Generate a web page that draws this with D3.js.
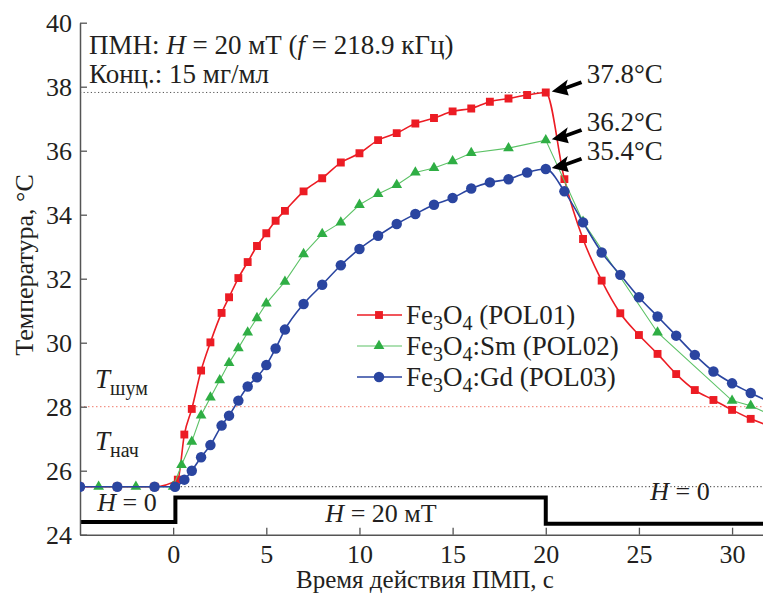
<!DOCTYPE html>
<html>
<head>
<meta charset="utf-8">
<script src="https://cdn.jsdelivr.net/npm/d3@7"></script>
<style>
  body { margin: 0; background: #fff; }
  svg { display: block; }
</style>
</head>
<body>
<svg id="chart" width="763" height="594"></svg>
<script>
// [time, s ; temperature, °C]
const pol01 = [
  [-5, 25.5], [-3, 25.5], [-1, 25.5], [0.25, 25.72], [0.6, 27.13], [1, 27.93], [1.5, 29.13],
  [2, 30.01], [2.6, 30.93], [3, 31.42], [3.5, 32.02], [4, 32.52], [4.5, 33.02], [5, 33.42],
  [5.5, 33.81], [6, 34.12], [7, 34.73], [8, 35.14], [9, 35.63], [10, 35.92], [11, 36.33],
  [12, 36.55], [13, 36.85], [14, 37.02], [15, 37.23], [16, 37.32], [17, 37.53], [18, 37.63],
  [19, 37.74], [20, 37.82], [21, 35.11], [22, 33.24], [23, 31.94], [24, 30.92], [25, 30.24],
  [26, 29.65], [27, 29.02], [28, 28.52], [29, 28.21], [30, 27.9], [31, 27.62], [32, 27.4]
];
const pol02 = [
  [-4, 25.5], [-2, 25.5], [0, 25.5], [0.45, 26.18], [1, 26.91], [1.5, 27.73], [2, 28.29],
  [2.5, 28.83], [3, 29.37], [3.5, 29.83], [4, 30.32], [4.5, 30.77], [5, 31.23], [6, 31.91],
  [7, 32.77], [8, 33.4], [9, 33.76], [10, 34.31], [11, 34.65], [12, 34.93], [13, 35.32],
  [14, 35.46], [15, 35.67], [16, 35.93], [18, 36.08], [20, 36.33], [22, 33.78], [26, 30.32],
  [30, 28.19], [31, 28.03], [32, 27.76]
];
const pol03 = [
  [-5, 25.5], [-3, 25.5], [-1, 25.5], [0.1, 25.5], [0.6, 25.72], [1, 26.0], [1.5, 26.42],
  [2, 26.8], [2.6, 27.41], [3, 27.72], [3.5, 28.19], [4, 28.63], [4.5, 28.92], [5, 29.3],
  [5.5, 29.82], [6, 30.41], [7, 31.21], [8, 31.81], [9, 32.42], [10, 32.93], [11, 33.34],
  [12, 33.71], [13, 34.02], [14, 34.31], [15, 34.52], [16, 34.82], [17, 35.01], [18, 35.11],
  [19, 35.32], [20, 35.43], [21, 34.73], [22, 33.76], [23, 32.82], [24, 32.12], [25, 31.42],
  [26, 30.82], [27, 30.22], [28, 29.62], [29, 29.1], [30, 28.73], [31, 28.43], [32, 28.15]
];
// field on/off indicator drawn in temperature units
const fieldStep = [[-5, 24.4], [0.12, 24.4], [0.12, 25.16], [20, 25.16], [20, 24.34], [32, 24.34]];
const xTicks = [0, 5, 10, 15, 20, 25, 30];
const yTicks = [24, 26, 28, 30, 32, 34, 36, 38, 40];
const tNoise = 28;
const tStart = 25.5;
const tMax = 37.82;
const peaks = [
  { label: '37.8°C', t: 20, v: 37.82 },
  { label: '36.2°C', t: 20, v: 36.33 },
  { label: '35.4°C', t: 20, v: 35.43 }
];
const series = [
  { key: 'pol01', data: pol01, name: ['Fe', '3', 'O', '4', ' (POL01)'], color: '#ec1c24', line: '#ec1c24', width: 1.6, shape: 'square', curve: d3.curveMonotoneX },
  { key: 'pol02', data: pol02, name: ['Fe', '3', 'O', '4', ':Sm (POL02)'], color: '#2fae44', line: '#5cc266', width: 1.1, shape: 'triangle', curve: d3.curveLinear },
  { key: 'pol03', data: pol03, name: ['Fe', '3', 'O', '4', ':Gd (POL03)'], color: '#2a45a0', line: '#2a45a0', width: 1.6, shape: 'circle', curve: d3.curveMonotoneX }
];

const serif = 'Liberation Serif';
const svg = d3.select('#chart');
const pLeft = 80;
const pRight = 763;
const pTop = 22.7;
const pBottom = 534.7;
const x = d3.scaleLinear().domain([-5, 31.66]).range([pLeft, pRight]);
const y = d3.scaleLinear().domain([24, 40]).range([pBottom, pTop]);
const ink = '#231f20';

const addText = (parent, xx, yy, size) => parent.append('text')
  .attr('x', xx).attr('y', yy)
  .attr('font-family', serif).attr('font-size', size).attr('fill', ink);

svg.append('defs').append('clipPath').attr('id', 'plot-clip')
  .append('rect').attr('x', pLeft).attr('y', pTop - 10).attr('width', pRight - pLeft).attr('height', pBottom - pTop + 10);

// reference lines
const refs = svg.append('g');
refs.append('line')
  .attr('x1', pLeft).attr('x2', x(20)).attr('y1', y(tMax)).attr('y2', y(tMax))
  .attr('stroke', '#555').attr('stroke-width', 1).attr('stroke-dasharray', '1.2,2.4');
refs.append('line')
  .attr('x1', pLeft).attr('x2', pRight).attr('y1', y(tNoise)).attr('y2', y(tNoise))
  .attr('stroke', '#f07a6a').attr('stroke-width', 1).attr('stroke-dasharray', '1.5,2.5');
refs.append('line')
  .attr('x1', pLeft).attr('x2', pRight).attr('y1', y(tStart)).attr('y2', y(tStart))
  .attr('stroke', '#333').attr('stroke-width', 1).attr('stroke-dasharray', '1.2,2.4');

// field step
svg.append('path')
  .attr('clip-path', 'url(#plot-clip)')
  .attr('fill', 'none')
  .attr('stroke', '#000')
  .attr('stroke-width', 4)
  .attr('d', d3.line().x((d) => x(d[0])).y((d) => y(d[1]))(fieldStep));

// axes (ticks point inward)
const xAxis = svg.append('g')
  .attr('transform', `translate(0,${pBottom})`)
  .call(d3.axisBottom(x).tickValues(xTicks).tickSizeInner(-7).tickSizeOuter(0).tickPadding(10));
const yAxis = svg.append('g')
  .attr('transform', `translate(${pLeft},0)`)
  .call(d3.axisLeft(y).tickValues(yTicks).tickSizeInner(-7).tickSizeOuter(0).tickPadding(8));
[xAxis, yAxis].forEach((g) => {
  g.attr('font-family', serif).attr('font-size', 26);
  g.select('.domain').attr('stroke', '#555').attr('stroke-width', 1.5);
  g.selectAll('.tick line').attr('stroke', '#555').attr('stroke-width', 1.3);
  g.selectAll('.tick text').attr('fill', ink).attr('font-family', serif);
});

// curves + markers
const marker = (shape) => {
  if (shape === 'square') return d3.symbol().type(d3.symbolSquare).size(62)();
  if (shape === 'triangle') return d3.symbol().type(d3.symbolTriangle).size(50)();
  return d3.symbol().type(d3.symbolCircle).size(86)();
};
const plot = svg.append('g').attr('clip-path', 'url(#plot-clip)');
series.forEach((s) => {
  const g = plot.append('g').attr('class', s.key);
  g.append('path')
    .attr('fill', 'none')
    .attr('stroke', s.line)
    .attr('stroke-width', s.width)
    .attr('d', d3.line().curve(s.curve).x((d) => x(d[0])).y((d) => y(d[1]))(s.data));
  g.selectAll('path.pt')
    .data(s.data)
    .join('path')
    .attr('class', 'pt')
    .attr('transform', (d) => `translate(${x(d[0])},${y(d[1])})`)
    .attr('d', marker(s.shape))
    .attr('fill', s.color);
});

// peak arrows
const arrowHead = 'M0,0 L16,-12 L14,-5.5 L29,-11 L30.5,-7.5 L15,-2 L17,4 Z';
peaks.forEach((p) => {
  const px = x(p.t) + 6;
  const py = y(p.v) - 1;
  svg.append('path')
    .attr('transform', `translate(${px},${py})`)
    .attr('d', arrowHead)
    .attr('fill', '#000');
  addText(svg, px + 35, py - 8, 27).text(p.label);
});

// legend
const legend = svg.append('g').attr('transform', 'translate(357,315)');
series.forEach((s, i) => {
  const row = legend.append('g').attr('transform', `translate(0,${i * 31})`);
  row.append('line').attr('x1', 0).attr('x2', 45).attr('stroke', s.line).attr('stroke-width', s.width);
  row.append('path').attr('transform', 'translate(22,0)').attr('d', marker(s.shape)).attr('fill', s.color);
  const t = addText(row, 49, 9, 27);
  t.append('tspan').text(s.name[0]);
  t.append('tspan').attr('font-size', 20).attr('dy', 6).text(s.name[1]);
  t.append('tspan').attr('dy', -6).text(s.name[2]);
  t.append('tspan').attr('font-size', 20).attr('dy', 6).text(s.name[3]);
  t.append('tspan').attr('dy', -6).text(s.name[4]);
});

// header notes
const note1 = addText(svg, 89, 54, 27);
note1.append('tspan').text('ПМН: ');
note1.append('tspan').attr('font-style', 'italic').text('H');
note1.append('tspan').text(' = 20 мТ (');
note1.append('tspan').attr('font-style', 'italic').text('f');
note1.append('tspan').text(' = 218.9 кГц)');
addText(svg, 89, 83, 27).text('Конц.: 15 мг/мл');

// threshold labels
const subLabel = (xx, yy, sub) => {
  const t = addText(svg, xx, yy, 27);
  t.append('tspan').attr('font-style', 'italic').text('T');
  t.append('tspan').attr('font-size', 20).attr('dy', 7).text(sub);
};
subLabel(95, 388, 'шум');
subLabel(95, 450, 'нач');

// field labels
const hLabel = (xx, yy, rest) => {
  const t = addText(svg, xx, yy, 26).attr('text-anchor', 'middle');
  t.append('tspan').attr('font-style', 'italic').text('H');
  t.append('tspan').text(rest);
};
hLabel(127, 511, ' = 0');
hLabel(381, 522, ' = 20 мТ');
hLabel(680, 500, ' = 0');

// axis titles
addText(svg, 425, 588, 25)
  .attr('text-anchor', 'middle')
  .text('Время действия ПМП, с');
addText(svg, 0, 0, 26)
  .attr('transform', 'translate(33,265) rotate(-90)')
  .attr('text-anchor', 'middle')
  .text('Температура, °C');
</script>
</body>
</html>
